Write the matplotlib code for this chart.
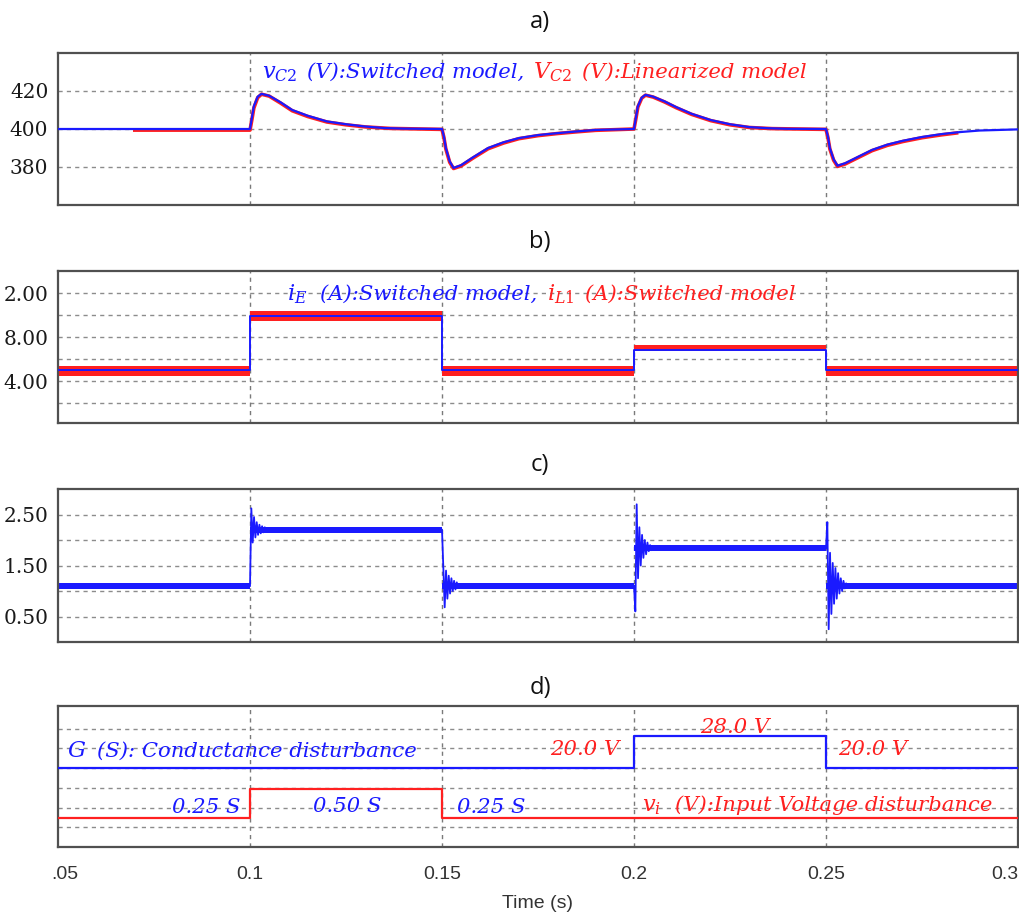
import matplotlib
matplotlib.use("Agg")
import matplotlib.pyplot as plt
import matplotlib.transforms as mtransforms
import numpy as np

plt.rcParams['mathtext.fontset'] = 'dejavuserif'

# ---------------- data ----------------
x_ticks = [0.05, 0.1, 0.15, 0.2, 0.25, 0.3]
x_tick_labels = [".05", "0.1", "0.15", "0.2", "0.25", "0.3"]
step_times = [0.05, 0.1, 0.15, 0.2, 0.25, 0.3]

# a) output capacitor voltage
vc2_t = [0.05, 0.1, 0.1005, 0.101, 0.102, 0.103, 0.105, 0.108, 0.111, 0.115, 0.12, 0.125, 0.13, 0.135, 0.14,
         0.15, 0.1505, 0.151, 0.152, 0.153, 0.155, 0.158, 0.162, 0.166, 0.17, 0.175, 0.18, 0.185, 0.19,
         0.2, 0.2005, 0.201, 0.202, 0.203, 0.205, 0.208, 0.211, 0.215, 0.22, 0.225, 0.23, 0.235, 0.24,
         0.25, 0.2505, 0.251, 0.252, 0.253, 0.255, 0.258, 0.262, 0.266, 0.27, 0.275, 0.28, 0.285, 0.29, 0.3]
vc2_sw = [400, 400, 406, 412, 417, 418.5, 417.5, 414, 410, 407, 404, 402.5, 401.3, 400.5, 400.2,
          400, 396, 390, 383, 379.5, 381, 385, 390, 393, 395.2, 396.8, 397.8, 398.7, 399.5,
          400, 406, 412, 416.5, 418, 417, 414.5, 411.5, 408, 404.7, 402.5, 401, 400.4, 400.1,
          400, 396, 390, 384, 380.7, 382, 385, 389, 391.8, 393.8, 395.8, 397.3, 398.4, 399.2, 399.8]
vc2_lin_t = [0.07, 0.1, 0.1005, 0.101, 0.102, 0.103, 0.105, 0.108, 0.111, 0.115, 0.12, 0.125, 0.13, 0.1365,
             0.15, 0.1505, 0.151, 0.152, 0.153, 0.155, 0.158, 0.162, 0.166, 0.17, 0.175, 0.18, 0.185, 0.19,
             0.2, 0.2005, 0.201, 0.202, 0.203, 0.205, 0.208, 0.211, 0.215, 0.22, 0.225, 0.23, 0.236,
             0.25, 0.2505, 0.251, 0.252, 0.253, 0.255, 0.258, 0.262, 0.266, 0.27, 0.275, 0.28, 0.284]
vc2_lin = [399.4, 399.4, 405, 411, 416.5, 418.3, 417.3, 413.6, 409.6, 406.6, 403.7, 402.2, 401.1, 400.3,
           399.8, 395.5, 389.5, 382.5, 379.2, 380.6, 384.6, 389.6, 392.6, 394.9, 396.5, 397.6, 398.5, 399.3,
           400, 405.5, 411.5, 416.2, 417.8, 416.8, 414.2, 411.2, 407.7, 404.4, 402.2, 400.8, 400.2,
           399.8, 395.5, 389.5, 383.5, 380.3, 381.6, 384.6, 388.6, 391.4, 393.4, 395.4, 396.9, 397.9]

# b) currents
iE_levels = [5.0, 9.9, 5.0, 6.8, 5.0]
iL1_upper = [5.4, 10.4, 5.4, 7.3, 5.4]
iL1_lower = [4.5, 9.5, 4.5, 6.7, 4.5]

# c) third signal: ripple band levels and transients
c_center = [1.1, 2.2, 1.1, 1.84, 1.1]
c_half = [0.065, 0.055, 0.065, 0.06, 0.065]
c_dt = 0.00035
c_event_times = [0.1, 0.15, 0.2, 0.25]
c_event_vals = [
    [1.1, 2.62, 1.95, 2.45, 2.05, 2.35, 2.1, 2.3, 2.13, 2.27, 2.15, 2.25, 2.17, 2.23, 2.19, 2.21, 2.2],
    [2.2, 1.45, 0.68, 1.4, 0.85, 1.3, 0.95, 1.25, 1.0, 1.2, 1.03, 1.17, 1.06, 1.14, 1.08, 1.12, 1.1],
    [1.1, 0.6, 2.7, 1.25, 2.25, 1.5, 2.1, 1.65, 2.0, 1.72, 1.95, 1.78, 1.9, 1.8, 1.86, 1.82, 1.84],
    [1.84, 2.35, 0.25, 1.75, 0.55, 1.55, 0.75, 1.45, 0.85, 1.35, 0.95, 1.25, 1.0, 1.2, 1.05, 1.15, 1.1],
]

# d) disturbances
vi_levels = [20.0, 20.0, 20.0, 28.0, 20.0]
G_levels = [0.25, 0.50, 0.25, 0.25, 0.25]

BLUE = "#1a1aff"
RED = "#ff2020"
GRIDC = "#8c8c8c"
TFONT = "DejaVu Serif"
TSIZE = 15.2

fig = plt.figure(figsize=(10.2, 9.13), dpi=100)
W, H = 1020.0, 913.0
AX_LEFT, AX_W = 58.0, 960.0


def add_ax(top, bottom):
    ax = fig.add_axes([AX_LEFT / W, 1 - bottom / H, AX_W / W, (bottom - top) / H])
    ax._pxbox = (top, bottom)
    return ax


def put(ax, px, py, s, color, ha="left", math=False):
    top, bottom = ax._pxbox
    xa = (px - AX_LEFT) / AX_W
    ya = (bottom - py) / (bottom - top)
    kw = dict(transform=ax.transAxes, color=color, ha=ha, va="baseline", fontsize=TSIZE)
    if math:
        ax.text(xa, ya, s, fontsize=TSIZE + 1, transform=ax.transAxes, color=color, ha=ha, va="baseline")
    else:
        ax.text(xa, ya, s, family=TFONT, style="italic", **kw)


def style(ax, ylim, yticks, ygrid, ylabels):
    ax.set_xlim(0.05, 0.3)
    ax.set_ylim(*ylim)
    for s in ax.spines.values():
        s.set_color("#505050")
        s.set_linewidth(1.6)
    ax.set_xticks(x_ticks)
    ax.tick_params(length=0)
    for yg in ygrid:
        ax.axhline(yg, color=GRIDC, lw=1.0, ls=(0, (3, 3)), zorder=0.5)
    for xg in x_ticks[1:-1]:
        ax.axvline(xg, color="#7a7a7a", lw=1.0, ls=(0, (3, 3)), zorder=0.5)
    ax.set_yticks(yticks)
    ax.set_yticklabels(ylabels, fontfamily="DejaVu Serif", fontsize=14.5, color="#1a1a1a")
    ax.tick_params(axis="y", pad=7)


axA = add_ax(53, 205)
axB = add_ax(271, 423)
axC = add_ax(489, 642)
axD = add_ax(706, 847)

# ---- a ----
style(axA, (360, 440), [380, 400, 420], [380, 400, 420], ["380", "400", "420"])
axA.plot(vc2_lin_t, vc2_lin, color=RED, lw=2.6, zorder=2)
axA.plot(vc2_t, vc2_sw, color=BLUE, lw=1.6, zorder=3)
axA.set_xticklabels([])
put(axA, 262, 78, r"$v_{C2}$", BLUE, math=True)
put(axA, 307, 78, "(V):Switched model,", BLUE)
put(axA, 533, 78, r"$V_{C2}$", RED, math=True)
put(axA, 582, 78, "(V):Linearized model", RED)

# ---- b ----
style(axB, (0.2, 14), [12, 8, 4], [2, 4, 6, 8, 10, 12], ["2.00", "8.00", "4.00"])
axB.fill_between(step_times, iL1_lower + [iL1_lower[-1]], iL1_upper + [iL1_upper[-1]],
                 step="post", color=RED, lw=0, zorder=2)
axB.step(step_times, iE_levels + [iE_levels[-1]], where="post", color=BLUE, lw=1.4, zorder=3)
axB.set_xticklabels([])
put(axB, 287, 300, r"$i_{E}$", BLUE, math=True)
put(axB, 320, 300, "(A):Switched model,", BLUE)
put(axB, 547, 300, r"$i_{L1}$", RED, math=True)
put(axB, 585, 300, "(A):Switched model", RED)

# ---- c ----
style(axC, (0, 3), [2.5, 1.5, 0.5], [0.5, 1.0, 1.5, 2.0, 2.5], ["2.50", "1.50", "0.50"])
cc = np.array(c_center + [c_center[-1]])
ch = np.array(c_half + [c_half[-1]])
axC.fill_between(step_times, cc - ch, cc + ch, step="post", color=BLUE, lw=0, zorder=2)
for te, vals in zip(c_event_times, c_event_vals):
    tt = te + c_dt * np.arange(len(vals))
    axC.plot(np.concatenate([[te], tt]), np.concatenate([[vals[0]], vals]), color=BLUE, lw=1.3, zorder=3)
axC.set_xticklabels([])

# ---- d ----
style(axD, (0, 35.7), [], [5, 10, 15, 20, 25, 30], [])
axD.step(step_times, vi_levels + [vi_levels[-1]], where="post", color=BLUE, lw=1.6, zorder=3)
axD2 = axD.twinx()
axD2.set_ylim(0, 1.214)
axD2.set_yticks([])
axD2.tick_params(length=0)
for s in axD2.spines.values():
    s.set_visible(False)
axD2.step(step_times, G_levels + [G_levels[-1]], where="post", color=RED, lw=1.6, zorder=3)
axD.set_xticklabels(x_tick_labels, fontfamily="Liberation Sans", fontsize=14, color="#333333")
axD.tick_params(axis="x", pad=14)
xl = axD.get_xticklabels()
xl[0].set_transform(xl[0].get_transform() + mtransforms.ScaledTranslation(7 / 100, 0, fig.dpi_scale_trans))
xl[-1].set_transform(xl[-1].get_transform() + mtransforms.ScaledTranslation(-13 / 100, 0, fig.dpi_scale_trans))
axD.set_xlabel("Time (s)", fontfamily="Liberation Sans", fontsize=14, color="#333333", labelpad=8)

put(axD, 67, 757, r"$G$", BLUE, math=True)
put(axD, 97, 757, "(S): Conductance disturbance", BLUE)
put(axD, 241, 813, "0.25 S", BLUE, ha="right")
put(axD, 347, 812, "0.50 S", BLUE, ha="center")
put(axD, 457, 813, "0.25 S", BLUE)
put(axD, 619, 755, "20.0 V", RED, ha="right")
put(axD, 735, 733, "28.0 V", RED, ha="center")
put(axD, 838, 755, "20.0 V", RED)
put(axD, 642, 811, r"$v_{i}$", RED, math=True)
put(axD, 675, 811, "(V):Input Voltage disturbance", RED)

# titles
for lbl, yc in [("a)", 22), ("b)", 242), ("c)", 465), ("d)", 688)]:
    fig.text(540 / W, 1 - yc / H, lbl, fontsize=17, fontfamily="Open Sans",
             ha="center", va="center", color="#111111")

fig.savefig("out.png", dpi=100)
